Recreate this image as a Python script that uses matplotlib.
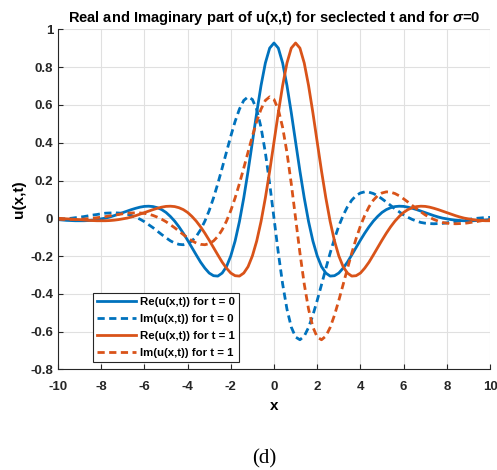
import numpy as np
import matplotlib
matplotlib.use("Agg")
import matplotlib.pyplot as plt

# sample positions along x
x = np.round(np.arange(-10, 10.0001, 0.2), 1)

re_t0 = [-0.007, -0.009, -0.011, -0.012, -0.013, -0.013, -0.013, -0.012, -0.010, -0.007,
         -0.003, 0.001, 0.007, 0.014, 0.022, 0.030, 0.038, 0.046, 0.053, 0.059,
         0.063, 0.064, 0.062, 0.056, 0.046, 0.031, 0.010, -0.015, -0.045, -0.079,
         -0.116, -0.155, -0.194, -0.232, -0.264, -0.290, -0.304, -0.306, -0.290, -0.256,
         -0.199, -0.120, -0.017, 0.108, 0.250, 0.404, 0.559, 0.703, 0.822, 0.901,
         0.928,
         0.901, 0.822, 0.703, 0.559, 0.404, 0.250, 0.108, -0.017, -0.120, -0.199,
         -0.256, -0.290, -0.306, -0.304, -0.290, -0.264, -0.232, -0.194, -0.155, -0.116,
         -0.079, -0.045, -0.015, 0.010, 0.031, 0.046, 0.056, 0.062, 0.064, 0.063,
         0.059, 0.053, 0.046, 0.038, 0.030, 0.022, 0.014, 0.007, 0.001, -0.003,
         -0.007, -0.010, -0.012, -0.013, -0.013, -0.013, -0.012, -0.011, -0.009, -0.007]

im_t0 = [-0.005, -0.004, -0.002, 0.000, 0.003, 0.006, 0.009, 0.013, 0.017, 0.020,
         0.024, 0.027, 0.028, 0.029, 0.028, 0.026, 0.022, 0.015, 0.006, -0.005,
         -0.018, -0.034, -0.050, -0.068, -0.086, -0.103, -0.119, -0.131, -0.138, -0.140,
         -0.134, -0.120, -0.096, -0.061, -0.015, 0.041, 0.108, 0.184, 0.266, 0.351,
         0.435, 0.513, 0.578, 0.624, 0.643, 0.629, 0.576, 0.481, 0.348, 0.183,
         0.000,
         -0.183, -0.348, -0.481, -0.576, -0.629, -0.643, -0.624, -0.578, -0.513, -0.435,
         -0.351, -0.266, -0.184, -0.108, -0.041, 0.015, 0.061, 0.096, 0.120, 0.134,
         0.140, 0.138, 0.131, 0.119, 0.103, 0.086, 0.068, 0.050, 0.034, 0.018,
         0.005, -0.006, -0.015, -0.022, -0.026, -0.028, -0.029, -0.028, -0.027, -0.024,
         -0.020, -0.017, -0.013, -0.009, -0.006, -0.003, 0.000, 0.002, 0.004, 0.005]

re_t1 = [0.000, -0.001, -0.003, -0.004, -0.006, -0.007, -0.009, -0.011, -0.012, -0.013,
         -0.013, -0.013, -0.012, -0.010, -0.007, -0.003, 0.001, 0.007, 0.014, 0.022,
         0.030, 0.038, 0.046, 0.053, 0.059, 0.063, 0.064, 0.062, 0.056, 0.046,
         0.031, 0.010, -0.015, -0.045, -0.079, -0.116, -0.155, -0.194, -0.232, -0.264,
         -0.290, -0.304, -0.306, -0.290, -0.256, -0.199, -0.120, -0.017, 0.108, 0.250,
         0.404, 0.559, 0.703, 0.822, 0.901,
         0.928,
         0.901, 0.822, 0.703, 0.559, 0.404, 0.250, 0.108, -0.017, -0.120, -0.199,
         -0.256, -0.290, -0.306, -0.304, -0.290, -0.264, -0.232, -0.194, -0.155, -0.116,
         -0.079, -0.045, -0.015, 0.010, 0.031, 0.046, 0.056, 0.062, 0.064, 0.063,
         0.059, 0.053, 0.046, 0.038, 0.030, 0.022, 0.014, 0.007, 0.001, -0.003,
         -0.007, -0.010, -0.012, -0.013, -0.013]

im_t1 = [-0.005, -0.006, -0.006, -0.006, -0.006, -0.005, -0.004, -0.002, 0.000, 0.003,
         0.006, 0.009, 0.013, 0.017, 0.020, 0.024, 0.027, 0.028, 0.029, 0.028,
         0.026, 0.022, 0.015, 0.006, -0.005, -0.018, -0.034, -0.050, -0.068, -0.086,
         -0.103, -0.119, -0.131, -0.138, -0.140, -0.134, -0.120, -0.096, -0.061, -0.015,
         0.041, 0.108, 0.184, 0.266, 0.351, 0.435, 0.513, 0.578, 0.624, 0.643,
         0.629, 0.576, 0.481, 0.348, 0.183,
         0.000,
         -0.183, -0.348, -0.481, -0.576, -0.629, -0.643, -0.624, -0.578, -0.513, -0.435,
         -0.351, -0.266, -0.184, -0.108, -0.041, 0.015, 0.061, 0.096, 0.120, 0.134,
         0.140, 0.138, 0.131, 0.119, 0.103, 0.086, 0.068, 0.050, 0.034, 0.018,
         0.005, -0.006, -0.015, -0.022, -0.026, -0.028, -0.029, -0.028, -0.027, -0.024,
         -0.020, -0.017, -0.013, -0.009, -0.006]

labels = ['Re(u(x,t)) for t = 0', 'Im(u(x,t)) for t = 0',
          'Re(u(x,t)) for t = 1', 'Im(u(x,t)) for t = 1']
x_ticks = [-10, -8, -6, -4, -2, 0, 2, 4, 6, 8, 10]
y_ticks = [-0.8, -0.6, -0.4, -0.2, 0, 0.2, 0.4, 0.6, 0.8, 1]
y_ticklabels = ['-0.8', '-0.6', '-0.4', '-0.2', '0', '0.2', '0.4', '0.6', '0.8', '1']

plt.rcParams['font.family'] = ['Liberation Sans', 'DejaVu Sans']
plt.rcParams['font.weight'] = 'bold'
plt.rcParams['mathtext.fontset'] = 'custom'
plt.rcParams['mathtext.it'] = 'Liberation Sans:bold:italic'

fig = plt.figure(figsize=(4.97, 4.70), dpi=100)
ax = fig.add_axes([58/497, 1-369.4/470, 432/497, 340/470])
blue = '#0072BD'
orange = '#D95319'
ax.plot(x, re_t0, color=blue, lw=2.0, label=labels[0])
ax.plot(x, im_t0, color=blue, lw=2.0, dashes=(2.6, 1.6), label=labels[1])
ax.plot(x, re_t1, color=orange, lw=2.0, label=labels[2])
ax.plot(x, im_t1, color=orange, lw=2.0, dashes=(2.6, 1.6), label=labels[3])
ax.set_xlim(-10, 10)
ax.set_ylim(-0.8, 1)
ax.set_xticks(x_ticks)
ax.set_xticklabels([str(v) for v in x_ticks])
ax.set_yticks(y_ticks)
ax.set_yticklabels(y_ticklabels)
ax.tick_params(direction='in', length=3.5, width=0.8, labelsize=9.5, colors='#262626')
ax.tick_params(axis='x', pad=8)
ax.tick_params(axis='y', pad=3.5)
for s in ['top', 'right']:
    ax.spines[s].set_visible(False)
for s in ['left', 'bottom']:
    ax.spines[s].set_color('#262626')
    ax.spines[s].set_linewidth(0.8)
ax.grid(True, color='#e0e0e0', lw=0.8)
ax.set_axisbelow(True)
ax.set_title(r'Real and Imaginary part of u(x,t) for seclected t and for $\sigma$=0',
             fontsize=10.5, fontweight='bold', pad=5)
ax.set_xlabel('x', fontsize=11, fontweight='bold', labelpad=5)
ax.set_ylabel('u(x,t)', fontsize=11, fontweight='bold', labelpad=3)
leg = ax.legend(loc='lower left', bbox_to_anchor=(0.080, 0.023), borderaxespad=0, fontsize=8.2,
                frameon=True, fancybox=False, handlelength=3.5, handletextpad=0.3,
                labelspacing=0.6, borderpad=0.35, edgecolor='#262626', framealpha=1)
leg.get_frame().set_linewidth(0.8)
fig.text(264/497, 1-459/470, '(d)', ha='center', va='center', fontsize=15,
         family='Liberation Serif', fontweight='normal')
fig.savefig('out.png')
